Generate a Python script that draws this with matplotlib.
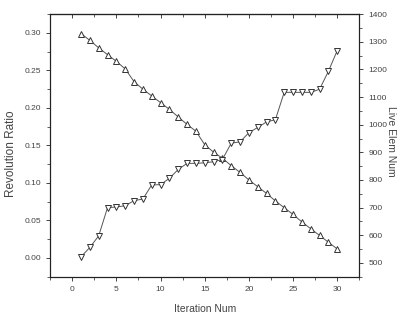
import numpy as np
import matplotlib
matplotlib.use('Agg')
import matplotlib.pyplot as plt
from matplotlib.ticker import MultipleLocator

plt.rcParams['font.family'] = ['Liberation Sans', 'DejaVu Sans']

# iteration index
iteration = list(range(1, 31))

# revolution ratio (left axis, up triangles)
revolution_ratio = [0.299, 0.290, 0.280, 0.271, 0.262, 0.252, 0.235, 0.225, 0.216, 0.207,
                    0.198, 0.188, 0.178, 0.169, 0.151, 0.141, 0.133, 0.123, 0.114, 0.104,
                    0.095, 0.086, 0.076, 0.067, 0.058, 0.048, 0.039, 0.030, 0.021, 0.012]

# live element count (right axis, down triangles)
live_elem = [522, 556, 598, 700, 702, 707, 725, 731, 782, 783,
             806, 838, 860, 860, 862, 866, 874, 933, 938, 971,
             990, 1010, 1018, 1117, 1117, 1117, 1117, 1128, 1193, 1268]

fig = plt.figure(figsize=(4.01, 3.21), dpi=100)
ax1 = fig.add_axes([0.125, 0.138, 0.771, 0.818])
ax2 = ax1.twinx()

line_col = '#555555'
mk_col = '#333333'

ax1.plot(iteration, revolution_ratio, '-^', color=line_col, lw=0.7, ms=4.5,
         mfc='white', mec=mk_col, mew=0.7)
ax2.plot(iteration, live_elem, '-v', color=line_col, lw=0.7, ms=4.5,
         mfc='white', mec=mk_col, mew=0.7)

ax1.set_xlim(-2.5, 32.5)
ax1.set_ylim(-0.025, 0.325)
ax2.set_ylim(450, 1400)

ax1.xaxis.set_major_locator(MultipleLocator(5))
ax1.xaxis.set_minor_locator(MultipleLocator(2.5))
ax1.yaxis.set_major_locator(MultipleLocator(0.05))
ax1.yaxis.set_minor_locator(MultipleLocator(0.025))
ax2.yaxis.set_major_locator(MultipleLocator(100))
ax2.yaxis.set_minor_locator(MultipleLocator(50))
ax1.yaxis.set_major_formatter(plt.FormatStrFormatter('%.2f'))

txt = '#444444'
for ax in (ax1, ax2):
    ax.tick_params(which='major', direction='out', length=3, width=0.7, labelsize=6, colors=txt)
    ax.tick_params(which='minor', direction='out', length=2, width=0.6, colors=txt)
    for s in ax.spines.values():
        s.set_linewidth(0.8)
        s.set_color('#222222')

# top axis: inward ticks, no labels
top = ax1.secondary_xaxis('top')
top.xaxis.set_major_locator(MultipleLocator(5))
top.xaxis.set_minor_locator(MultipleLocator(2.5))
top.tick_params(which='major', direction='in', length=3, width=0.7, labeltop=False, colors=txt)
top.tick_params(which='minor', direction='in', length=2, width=0.6, colors=txt)
top.spines['top'].set_linewidth(0.8)

ax1.set_xlabel('Iteration Num', fontsize=7.5, color=txt, labelpad=8)
ax1.set_ylabel('Revolution Ratio', fontsize=8.5, color=txt)
ax1.yaxis.set_label_coords(-0.107, 0.467)
ax2.set_ylabel('Live Elem Num', fontsize=7.5, color=txt, rotation=270, va='center')
ax2.yaxis.label.set_rotation_mode('anchor')
ax2.yaxis.set_label_coords(1.102, 0.517)

fig.savefig('out.png', dpi=100)
